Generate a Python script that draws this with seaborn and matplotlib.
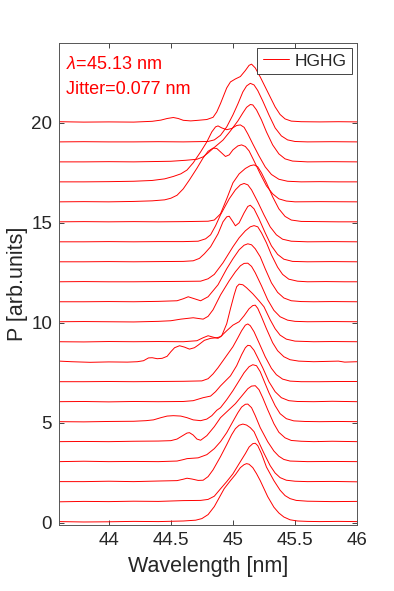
import numpy as np
import pandas as pd
import seaborn as sns
import matplotlib.pyplot as plt
from matplotlib.lines import Line2D

# HGHG single-shot spectra, (wavelength [nm], P [arb.units])
shot_00 = [(43.6, 0.05), (43.8, 0.03), (44.0, 0.04), (44.2, 0.06), (44.4, 0.05), (44.6, 0.08), (44.7, 0.12), (44.75, 0.2),
           (44.8, 0.4), (44.85, 0.8), (44.89, 1.25), (44.93, 1.7), (44.98, 2.1), (45.02, 2.4), (45.06, 2.75), (45.09, 2.9),
           (45.11, 2.95), (45.13, 2.92), (45.16, 2.75), (45.19, 2.45), (45.22, 2.1), (45.28, 1.3), (45.33, 0.77), (45.37, 0.48),
           (45.41, 0.28), (45.46, 0.14), (45.52, 0.08), (45.6, 0.06), (45.7, 0.05), (45.85, 0.06), (46.0, 0.05)]
shot_01 = [(43.6, 0.04), (43.8, 0.06), (44.0, 0.05), (44.2, 0.07), (44.4, 0.06), (44.6, 0.1), (44.74, 0.11), (44.8, 0.16),
           (44.85, 0.32), (44.9, 0.69), (44.95, 1.05), (45.0, 1.44), (45.05, 1.95), (45.1, 2.45), (45.13, 2.78), (45.16, 2.95),
           (45.18, 2.97), (45.2, 2.85), (45.23, 2.45), (45.27, 1.78), (45.33, 1.1), (45.38, 0.62), (45.42, 0.35), (45.46, 0.2),
           (45.51, 0.11), (45.6, 0.07), (45.8, 0.05), (46.0, 0.06)]
shot_02 = [(43.6, 0.05), (43.8, 0.05), (44.0, 0.07), (44.2, 0.05), (44.4, 0.08), (44.55, 0.1), (44.6, 0.17), (44.63, 0.22),
           (44.67, 0.18), (44.72, 0.11), (44.76, 0.12), (44.8, 0.3), (44.84, 0.64), (44.9, 1.3), (44.95, 1.9), (44.99, 2.4),
           (45.02, 2.7), (45.05, 2.87), (45.08, 2.93), (45.11, 2.88), (45.14, 2.75), (45.17, 2.55), (45.21, 2.0), (45.25, 1.47),
           (45.3, 0.85), (45.34, 0.48), (45.38, 0.25), (45.43, 0.12), (45.5, 0.07), (45.6, 0.05), (45.8, 0.06), (46.0, 0.04)]
shot_03 = [(43.6, 0.05), (43.8, 0.07), (44.0, 0.05), (44.2, 0.06), (44.4, 0.05), (44.55, 0.08), (44.6, 0.15), (44.63, 0.2),
           (44.72, 0.24), (44.79, 0.4), (44.85, 0.7), (44.9, 1.05), (44.95, 1.5), (45.0, 2.06), (45.04, 2.5), (45.07, 2.78),
           (45.1, 2.92), (45.12, 2.93), (45.15, 2.75), (45.18, 2.35), (45.22, 1.75), (45.28, 1.05), (45.33, 0.58), (45.37, 0.32),
           (45.41, 0.16), (45.46, 0.08), (45.6, 0.05), (45.8, 0.06), (46.0, 0.05)]
shot_04 = [(43.6, 0.05), (43.8, 0.06), (44.0, 0.05), (44.2, 0.07), (44.4, 0.08), (44.5, 0.1), (44.55, 0.18), (44.59, 0.33),
           (44.63, 0.48), (44.65, 0.5), (44.68, 0.38), (44.71, 0.18), (44.74, 0.12), (44.79, 0.35), (44.85, 0.8), (44.9, 1.25),
           (44.96, 1.6), (45.02, 1.95), (45.08, 2.4), (45.12, 2.7), (45.15, 2.83), (45.18, 2.85), (45.21, 2.65), (45.24, 2.25),
           (45.28, 1.65), (45.33, 0.95), (45.37, 0.52), (45.42, 0.24), (45.47, 0.11), (45.55, 0.07), (45.65, 0.05),
           (45.8, 0.07), (46.0, 0.05)]
shot_05 = [(43.6, 0.05), (43.8, 0.04), (44.0, 0.06), (44.2, 0.07), (44.3, 0.1), (44.36, 0.14), (44.42, 0.25), (44.47, 0.33),
           (44.52, 0.35), (44.58, 0.33), (44.63, 0.25), (44.68, 0.14), (44.74, 0.1), (44.79, 0.18), (44.83, 0.35),
           (44.87, 0.62), (44.9, 0.75), (44.95, 1.15), (45.0, 1.6), (45.05, 2.1), (45.09, 2.5), (45.13, 2.8), (45.16, 2.9),
           (45.19, 2.85), (45.22, 2.55), (45.25, 2.1), (45.29, 1.5), (45.34, 0.85), (45.38, 0.45), (45.43, 0.2),
           (45.49, 0.09), (45.58, 0.06), (45.7, 0.05), (45.85, 0.06), (46.0, 0.05)]
shot_06 = [(43.6, 0.05), (43.8, 0.06), (44.0, 0.04), (44.2, 0.06), (44.4, 0.05), (44.6, 0.06), (44.68, 0.1), (44.76, 0.25),
           (44.82, 0.33), (44.86, 0.55), (44.9, 0.84), (44.98, 1.34), (45.03, 1.85), (45.07, 2.4), (45.1, 2.75), (45.12, 2.87),
           (45.14, 2.85), (45.17, 2.62), (45.2, 2.25), (45.24, 1.75), (45.29, 1.05), (45.34, 0.55), (45.39, 0.25),
           (45.45, 0.1), (45.52, 0.06), (45.65, 0.05), (45.8, 0.07), (46.0, 0.05)]
shot_07 = [(43.6, 0.05), (43.8, 0.05), (44.0, 0.06), (44.2, 0.05), (44.4, 0.06), (44.6, 0.07), (44.75, 0.09), (44.8, 0.2),
           (44.84, 0.44), (44.88, 0.75), (44.92, 1.1), (44.96, 1.45), (45.0, 1.8), (45.04, 2.25), (45.07, 2.6), (45.1, 2.88),
           (45.12, 2.94), (45.14, 2.85), (45.17, 2.55), (45.21, 2.0), (45.26, 1.3), (45.31, 0.72), (45.35, 0.4),
           (45.4, 0.18), (45.46, 0.08), (45.55, 0.05), (45.7, 0.05), (45.85, 0.06), (46.0, 0.06)]
shot_08 = [(43.6, 0.08), (43.7, 0.05), (43.85, 0.02), (44.0, 0.04), (44.15, 0.03), (44.23, 0.05), (44.28, 0.1), (44.32, 0.24),
           (44.35, 0.25), (44.39, 0.2), (44.43, 0.22), (44.47, 0.32), (44.5, 0.55), (44.53, 0.75), (44.57, 0.85), (44.61, 0.78),
           (44.65, 0.68), (44.69, 0.75), (44.72, 0.88), (44.77, 1.12), (44.82, 1.22), (44.87, 1.25), (44.9, 1.3),
           (44.95, 1.6), (45.0, 1.88), (45.05, 2.05), (45.09, 2.35), (45.13, 2.7), (45.16, 2.86), (45.18, 2.88),
           (45.2, 2.72), (45.23, 2.3), (45.27, 1.7), (45.32, 1.0), (45.36, 0.6), (45.41, 0.3), (45.46, 0.15), (45.53, 0.08),
           (45.65, 0.05), (45.85, 0.08), (45.9, 0.03), (46.0, 0.05)]
shot_09 = [(43.6, 0.05), (43.8, 0.04), (44.0, 0.06), (44.2, 0.05), (44.4, 0.06), (44.6, 0.05), (44.71, 0.1), (44.76, 0.25),
           (44.8, 0.35), (44.84, 0.28), (44.88, 0.22), (44.91, 0.35), (44.95, 0.95), (44.98, 1.7), (45.01, 2.4), (45.03, 2.8),
           (45.05, 2.93), (45.08, 2.9), (45.11, 2.75), (45.16, 2.45), (45.21, 2.1), (45.25, 1.8), (45.3, 1.15), (45.34, 0.7),
           (45.38, 0.38), (45.43, 0.18), (45.5, 0.08), (45.65, 0.05), (45.8, 0.06), (46.0, 0.05)]
shot_10 = [(43.6, 0.05), (43.8, 0.06), (44.0, 0.05), (44.2, 0.04), (44.4, 0.07), (44.5, 0.1), (44.58, 0.18), (44.68, 0.25),
           (44.76, 0.18), (44.8, 0.32), (44.84, 0.65), (44.9, 1.39), (44.97, 2.1), (45.02, 2.55), (45.06, 2.85),
           (45.09, 2.97), (45.12, 2.98), (45.15, 2.82), (45.18, 2.5), (45.23, 1.85), (45.28, 1.15), (45.33, 0.62),
           (45.38, 0.3), (45.44, 0.13), (45.5, 0.07), (45.6, 0.05), (45.8, 0.06), (46.0, 0.05)]
shot_11 = [(43.6, 0.05), (43.8, 0.05), (44.0, 0.06), (44.2, 0.05), (44.4, 0.07), (44.55, 0.1), (44.6, 0.2), (44.64, 0.3),
           (44.68, 0.22), (44.74, 0.1), (44.8, 0.3), (44.88, 0.9), (44.95, 1.7), (45.0, 2.2), (45.05, 2.65), (45.09, 2.88),
           (45.12, 2.95), (45.15, 2.9), (45.18, 2.7), (45.22, 2.3), (45.26, 1.7), (45.31, 1.0), (45.36, 0.52), (45.41, 0.24),
           (45.47, 0.1), (45.55, 0.06), (45.65, 0.05), (45.8, 0.06), (46.0, 0.05)]
shot_12 = [(43.6, 0.05), (43.8, 0.06), (44.0, 0.05), (44.2, 0.05), (44.4, 0.06), (44.6, 0.07), (44.74, 0.08), (44.8, 0.2),
           (44.85, 0.42), (44.92, 1.0), (45.0, 1.8), (45.05, 2.25), (45.1, 2.6), (45.14, 2.8), (45.17, 2.86), (45.2, 2.8),
           (45.23, 2.5), (45.27, 2.0), (45.31, 1.4), (45.36, 0.78), (45.4, 0.42), (45.45, 0.18), (45.52, 0.08), (45.6, 0.05),
           (45.75, 0.06), (45.9, 0.05), (46.0, 0.05)]
shot_13 = [(43.6, 0.05), (43.8, 0.05), (44.0, 0.06), (44.2, 0.05), (44.4, 0.06), (44.6, 0.07), (44.68, 0.1), (44.73, 0.22),
           (44.77, 0.45), (44.82, 0.8), (44.88, 1.45), (44.92, 2.05), (44.95, 2.3), (44.97, 2.33), (45.0, 2.05), (45.02, 1.85),
           (45.05, 2.0), (45.09, 2.5), (45.12, 2.82), (45.14, 2.88), (45.17, 2.7), (45.21, 2.2), (45.26, 1.5), (45.31, 0.85),
           (45.36, 0.42), (45.41, 0.18), (45.48, 0.07), (45.6, 0.05), (45.8, 0.06), (46.0, 0.05)]
shot_14 = [(43.6, 0.05), (43.8, 0.05), (44.0, 0.06), (44.2, 0.05), (44.4, 0.06), (44.6, 0.06), (44.72, 0.08), (44.78, 0.2),
           (44.82, 0.4), (44.86, 0.85), (44.9, 1.4), (44.97, 2.2), (45.02, 2.65), (45.06, 2.9), (45.09, 2.97), (45.12, 2.9),
           (45.15, 2.65), (45.2, 2.05), (45.25, 1.4), (45.3, 0.8), (45.35, 0.4), (45.4, 0.18), (45.47, 0.08), (45.6, 0.05),
           (45.8, 0.06), (46.0, 0.05)]
shot_15 = [(43.6, 0.05), (43.8, 0.06), (44.0, 0.05), (44.2, 0.06), (44.4, 0.05), (44.6, 0.06), (44.8, 0.08), (44.85, 0.14),
           (44.9, 0.45), (44.95, 1.2), (45.0, 2.0), (45.05, 2.45), (45.1, 2.72), (45.14, 2.86), (45.17, 2.9), (45.2, 2.8),
           (45.23, 2.5), (45.27, 2.0), (45.32, 1.3), (45.37, 0.7), (45.42, 0.32), (45.47, 0.14), (45.55, 0.07), (45.7, 0.06),
           (45.85, 0.05), (46.0, 0.05)]
shot_16 = [(43.6, 0.05), (43.8, 0.06), (44.0, 0.05), (44.2, 0.07), (44.35, 0.1), (44.45, 0.15), (44.5, 0.23), (44.55, 0.38),
           (44.6, 0.7), (44.65, 1.15), (44.71, 1.73), (44.76, 2.25), (44.8, 2.58), (44.84, 2.74), (44.87, 2.72), (44.9, 2.55),
           (44.94, 2.32), (44.97, 2.4), (45.0, 2.65), (45.04, 2.85), (45.07, 2.9), (45.1, 2.82), (45.13, 2.6), (45.17, 2.1),
           (45.22, 1.45), (45.27, 0.85), (45.32, 0.45), (45.37, 0.2), (45.43, 0.09), (45.5, 0.05), (45.7, 0.06), (46.0, 0.05)]
shot_17 = [(43.6, 0.05), (43.8, 0.05), (44.0, 0.06), (44.2, 0.08), (44.35, 0.12), (44.45, 0.2), (44.52, 0.32), (44.58, 0.45),
           (44.63, 0.64), (44.68, 1.0), (44.74, 1.55), (44.79, 2.05), (44.83, 2.55), (44.86, 2.8), (44.88, 2.85),
           (44.91, 2.75), (44.95, 2.66), (44.99, 2.72), (45.03, 2.87), (45.06, 2.9), (45.09, 2.78), (45.12, 2.45),
           (45.16, 1.95), (45.21, 1.35), (45.26, 0.8), (45.31, 0.42), (45.37, 0.18), (45.44, 0.08), (45.55, 0.05),
           (45.7, 0.06), (45.85, 0.05), (46.0, 0.05)]
shot_18 = [(43.6, 0.05), (43.8, 0.05), (44.0, 0.06), (44.2, 0.05), (44.4, 0.07), (44.5, 0.08), (44.62, 0.13), (44.71, 0.18),
           (44.76, 0.3), (44.8, 0.5), (44.84, 0.72), (44.92, 1.14), (44.98, 1.6), (45.04, 2.1), (45.08, 2.5), (45.11, 2.78),
           (45.14, 2.92), (45.16, 2.9), (45.19, 2.65), (45.23, 2.15), (45.27, 1.55), (45.32, 0.9), (45.37, 0.45),
           (45.42, 0.2), (45.48, 0.09), (45.6, 0.05), (45.8, 0.06), (46.0, 0.05)]
shot_19 = [(43.6, 0.05), (43.8, 0.06), (44.0, 0.05), (44.2, 0.05), (44.4, 0.06), (44.6, 0.05), (44.8, 0.07), (44.85, 0.15),
           (44.9, 0.38), (44.95, 0.8), (45.0, 1.4), (45.04, 1.95), (45.08, 2.55), (45.11, 2.85), (45.14, 2.98), (45.17, 2.9),
           (45.2, 2.62), (45.24, 2.1), (45.29, 1.4), (45.34, 0.75), (45.39, 0.35), (45.44, 0.15), (45.5, 0.07), (45.6, 0.05),
           (45.8, 0.06), (46.0, 0.05)]
shot_20 = [(43.6, 0.06), (43.8, 0.04), (44.0, 0.05), (44.2, 0.04), (44.35, 0.08), (44.42, 0.14), (44.47, 0.22), (44.52, 0.27),
           (44.56, 0.22), (44.6, 0.13), (44.66, 0.1), (44.72, 0.13), (44.79, 0.17), (44.84, 0.28), (44.87, 0.55), (44.9, 0.97),
           (44.95, 1.75), (44.98, 2.05), (45.02, 2.2), (45.06, 2.32), (45.1, 2.62), (45.13, 2.88), (45.15, 2.94),
           (45.18, 2.75), (45.22, 2.3), (45.26, 1.8), (45.3, 1.3), (45.34, 0.8), (45.38, 0.42), (45.42, 0.2), (45.47, 0.09),
           (45.55, 0.06), (45.7, 0.05), (45.85, 0.06), (46.0, 0.05)]

shots = [shot_00, shot_01, shot_02, shot_03, shot_04, shot_05, shot_06, shot_07, shot_08, shot_09, shot_10,
         shot_11, shot_12, shot_13, shot_14, shot_15, shot_16, shot_17, shot_18, shot_19, shot_20]

central_wl = 45.13
jitter = 0.077

# waterfall: shot n sits on an offset of n
rows = []
for n, spec in enumerate(shots):
    for wl, p in spec:
        rows.append({"shot": n, "wavelength": wl, "P": p + n})
df = pd.DataFrame(rows)

sns.set_style("ticks")
plt.rcParams["font.family"] = ["Liberation Sans", "DejaVu Sans"]
plt.rcParams["mathtext.fontset"] = "custom"
plt.rcParams["mathtext.it"] = "Liberation Sans:italic"
plt.rcParams["mathtext.rm"] = "Liberation Sans"

fig = plt.figure(figsize=(3.94, 5.91), dpi=100)
ax = fig.add_axes([0.150, 0.1117, 0.7563, 0.8156])

sns.lineplot(data=df, x="wavelength", y="P", units="shot", estimator=None, sort=False,
             color="red", lw=0.7, ax=ax, legend=False)

ax.set_xlim(43.6, 46)
ax.set_ylim(-0.12, 24)
ax.set_xticks([44, 44.5, 45, 45.5, 46])
ax.set_xticklabels(["44", "44.5", "45", "45.5", "46"])
ax.set_yticks([0, 5, 10, 15, 20])
ax.tick_params(direction="in", top=True, right=True, length=3.5, width=0.6,
               labelsize=13.5, colors="#262626", pad=5)
for s in ax.spines.values():
    s.set_visible(True)
    s.set_color("#555555")
    s.set_linewidth(0.7)

ax.set_xlabel("Wavelength [nm]", fontsize=15.5, color="#262626", labelpad=5)
ax.set_ylabel("P [arb.units]", fontsize=15.5, color="#262626", labelpad=2)

ax.text(0.024, 0.946, rf"$\lambda$={central_wl:.2f} nm", transform=ax.transAxes,
        color="red", fontsize=13, va="baseline")
ax.text(0.024, 0.894, f"Jitter={jitter:.3f} nm", transform=ax.transAxes,
        color="red", fontsize=13, va="baseline")

leg = ax.legend(handles=[Line2D([0], [0], color="red", lw=0.7)], labels=["HGHG"],
                loc="upper right", fontsize=12.5, fancybox=False, framealpha=1,
                edgecolor="#262626", borderpad=0.3, handlelength=1.5,
                handletextpad=0.35, borderaxespad=0.3)
leg.get_frame().set_linewidth(0.6)

fig.savefig("out.png", dpi=100)
